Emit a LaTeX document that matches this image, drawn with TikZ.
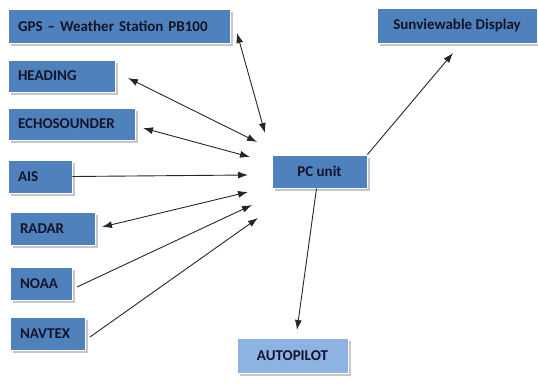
\documentclass[tikz,border=0pt]{standalone}
\usepackage{fontspec}
\setmainfont{Carlito}
\usetikzlibrary{shadows,arrows.meta}

\definecolor{boxblue}{HTML}{4F81BD}
\definecolor{paleblue}{HTML}{8DB3E2}
\definecolor{boxtext}{HTML}{14142A}

\tikzset{
  unit/.style={draw=white,line width=0.8pt,fill=boxblue,text=boxtext,
    font=\bfseries\fontsize{15}{17}\selectfont,inner xsep=10pt,inner ysep=0pt,
    drop shadow={shadow xshift=2.5pt,shadow yshift=-3pt,fill=gray!55,opacity=0.8}},
  sensor/.style={unit,align=left,minimum height=#1},
  sensor/.default=33pt,
  link/.style={draw=black!85,line width=0.9pt},
}

\begin{document}
\begin{tikzpicture}[>={Latex[length=10pt,width=7pt]},x=1pt,y=-1pt]
\useasboundingbox (0,0) rectangle (538,383);
%%
\node (gps) at (119,26) [sensor=34pt,text width=202pt] {\mbox{GPS -- Weather Station PB100}};
  \node (heading) at (61.5,76) [sensor=32pt,text width=87pt] {HEADING};
  \node (echo) at (71.5,124) [sensor=32pt,text width=107pt] {\mbox{ECHOSOUNDER}};
  \node (ais) at (40,176.5) [sensor,text width=44pt] {AIS};
  \node (radar) at (52.5,228.5) [sensor,text width=65pt] {RADAR};
  \node (noaa) at (41,283.5) [sensor,text width=42pt] {NOAA};
  \node (navtex) at (47.5,333.5) [sensor,text width=55pt] {NAVTEX};
  \node (pc) at (319.5,171.5) [unit,minimum width=95pt,minimum height=33pt] {PC unit};
  \node (sun) at (457,25.5) [unit,minimum width=160pt,minimum height=35pt] {Sunviewable Display};
  \node (auto) at (292.5,355.5) [unit,fill=paleblue,minimum width=111pt,minimum height=35pt] {AUTOPILOT};
%
\coordinate (gps-tip) at (237,33);
  \coordinate (heading-tip) at (128,78);
  \coordinate (echo-tip) at (143,128);
  \coordinate (radar-tip) at (102,227);
  \coordinate (noaa-tail) at (77,287);
  \coordinate (navtex-tail) at (90,337);
  \coordinate (in-gps) at (265,133);
  \coordinate (in-heading) at (257,142);
  \coordinate (in-echo) at (250,157);
  \coordinate (in-ais) at (248,175);
  \coordinate (in-radar) at (248,192);
  \coordinate (in-noaa) at (252,205);
  \coordinate (in-navtex) at (258,218);
  \coordinate (sun-tip) at (453,53);
  \coordinate (auto-tip) at (297,330);
%
\draw [link,<->] (gps-tip) -- (in-gps);
  \draw [link,<->] (heading-tip) -- (in-heading);
  \draw [link,<->] (echo-tip) -- (in-echo);
  \draw [link,->] (ais.east) -- (in-ais);
  \draw [link,<->] (radar-tip) -- (in-radar);
  \draw [link,->] (noaa-tail) -- (in-noaa);
  \draw [link,->] (navtex-tail) -- (in-navtex);
  \draw [link,->] (pc.north east) -- (sun-tip);
  \draw [link,->] ([xshift=-3pt]pc.south) -- (auto-tip);
%
\end{tikzpicture}
\end{document}
